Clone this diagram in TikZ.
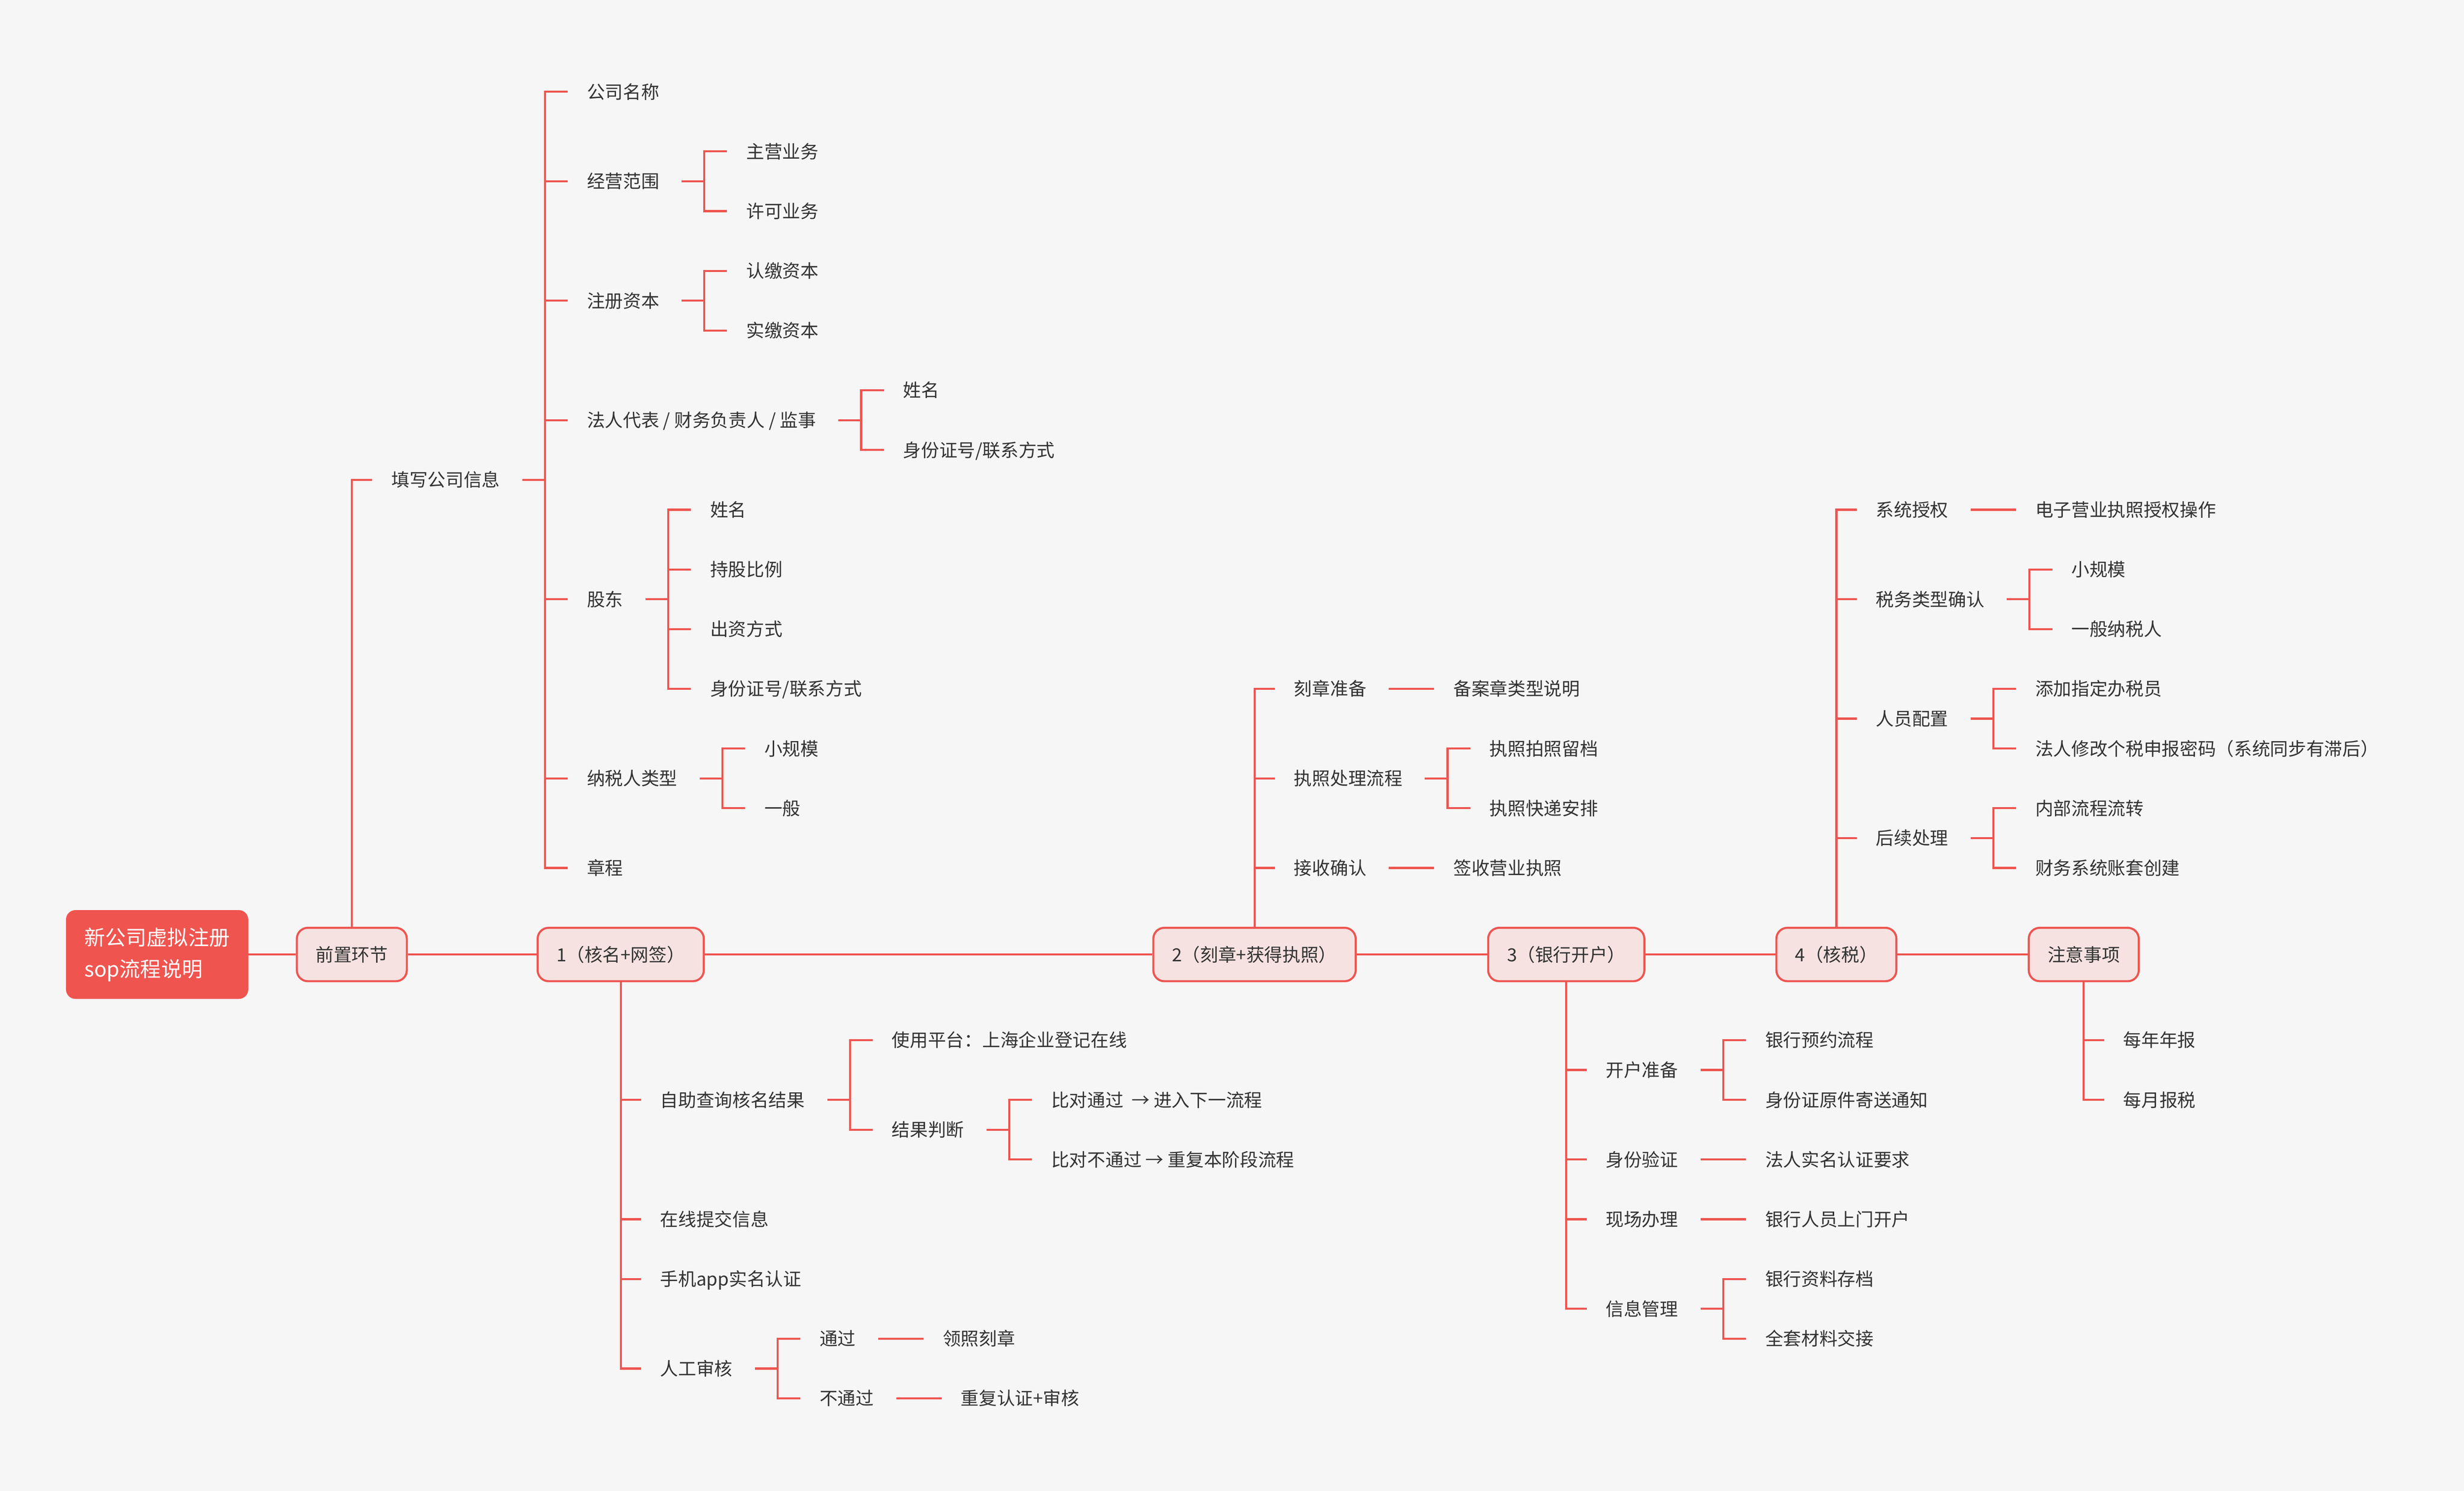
\documentclass[tikz,border=0pt]{standalone}
\usepackage{fontspec}
\setmainfont{Noto Sans CJK SC}
\usetikzlibrary{calc}
\definecolor{lred}{HTML}{EE5550}
\definecolor{rootfill}{HTML}{F0544F}
\definecolor{boxfill}{HTML}{F6E2E1}
\definecolor{bg}{HTML}{F6F6F6}
\definecolor{txt}{HTML}{333333}
% child of a main box: name placed 25pt right of the box centre
\newcommand\bkid[4]{%
  \path (#1.center) ++(25,0) coordinate (tmpx);
  \coordinate (tmpy) at (0,#3);
  \node[leaf] (#2) at (tmpx |- tmpy) {#4};
  \draw[conn] (#1.center |- #2.west) -- ([xshift=-12pt]#2.west);
}
% child of a text node: bracket connector
\newcommand\kid[4]{%
  \path (#1.east) ++(55,0) coordinate (tmpx);
  \coordinate (tmpy) at (0,#3);
  \node[leaf] (#2) at (tmpx |- tmpy) {#4};
  \draw[conn] ([xshift=14pt]#1.east) -- ([xshift=28.5pt]#1.east) |- ([xshift=-12pt]#2.west);
}
\begin{document}
\begin{tikzpicture}[x=1pt,y=-1pt,
  conn/.style={draw=lred,line width=1.3pt},
  leaf/.style={inner sep=0pt,text height=10.1pt,text depth=1.4pt,text=txt,anchor=west,font=\fontsize{11.5}{14}\selectfont},
  mainbox/.style={draw=lred,line width=1.3pt,fill=boxfill,rounded corners=7pt,minimum height=34pt,inner xsep=12pt,inner ysep=0pt,text height=10.1pt,text depth=1.4pt,text=txt,font=\fontsize{11.5}{14}\selectfont},
  rootbox/.style={fill=rootfill,rounded corners=6pt,minimum width=116pt,minimum height=56.5pt,inner sep=0pt,align=left,text=white,font=\fontsize{13.2}{20}\selectfont}
]
\useasboundingbox (0,0) rectangle (1568,948.9);
\fill[bg] (0,0) rectangle (1568,948.9);

% main row
\node[rootbox] (root) at (100,607.5) {新公司虚拟注册\\sop流程说明};
\node[mainbox] (b0) at (223.9,607.5) {前置环节};
\node[mainbox] (b1) at (395,607.5) {1（核名+网签）};
\node[mainbox] (b2) at (798.3,607.5) {2（刻章+获得执照）};
\node[mainbox] (b3) at (996.7,607.5) {3（银行开户）};
\node[mainbox] (b4) at (1168.6,607.5) {4（核税）};
\node[mainbox] (b5) at (1326,607.5) {注意事项};
\draw[conn] (root.east) -- (b0.west);
\draw[conn] (b0.east) -- (b1.west);
\draw[conn] (b1.east) -- (b2.west);
\draw[conn] (b2.east) -- (b3.west);
\draw[conn] (b3.east) -- (b4.west);
\draw[conn] (b4.east) -- (b5.west);

% 前置环节
\bkid{b0}{a}{305.4}{填写公司信息}
\draw[conn] (b0.north) |- ([xshift=-12pt]a.west);
\kid{a}{a1}{58.4}{公司名称}
\kid{a}{a2}{115.4}{经营范围}
\kid{a2}{a21}{96.4}{主营业务}
\kid{a2}{a22}{134.4}{许可业务}
\kid{a}{a3}{191.4}{注册资本}
\kid{a3}{a31}{172.4}{认缴资本}
\kid{a3}{a32}{210.4}{实缴资本}
\kid{a}{a4}{267.4}{法人代表 / 财务负责人 / 监事}
\kid{a4}{a41}{248.4}{姓名}
\kid{a4}{a42}{286.4}{身份证号/联系方式}
\kid{a}{a5}{381.4}{股东}
\kid{a5}{a51}{324.4}{姓名}
\kid{a5}{a52}{362.4}{持股比例}
\kid{a5}{a53}{400.4}{出资方式}
\kid{a5}{a54}{438.4}{身份证号/联系方式}
\kid{a}{a6}{495.4}{纳税人类型}
\kid{a6}{a61}{476.4}{小规模}
\kid{a6}{a62}{514.4}{一般}
\kid{a}{a7}{552.4}{章程}

% 1（核名+网签）
\bkid{b1}{c1}{700}{自助查询核名结果}
\kid{c1}{c11}{662}{使用平台：上海企业登记在线}
\kid{c1}{c12}{719}{结果判断}
\kid{c12}{c121}{700}{比对通过\ \ → 进入下一流程}
\kid{c12}{c122}{738}{比对不通过 → 重复本阶段流程}
\bkid{b1}{c2}{776}{在线提交信息}
\bkid{b1}{c3}{814}{手机app实名认证}
\bkid{b1}{c4}{871}{人工审核}
\kid{c4}{c41}{852}{通过}
\kid{c4}{c42}{890}{不通过}
\kid{c41}{c411}{852}{领照刻章}
\kid{c42}{c421}{890}{重复认证+审核}
\draw[conn] (b1.south) |- ([xshift=-12pt]c4.west);

% 2（刻章+获得执照）
\bkid{b2}{d1}{438.4}{刻章准备}
\kid{d1}{d11}{438.4}{备案章类型说明}
\bkid{b2}{d2}{495.4}{执照处理流程}
\kid{d2}{d21}{476.4}{执照拍照留档}
\kid{d2}{d22}{514.4}{执照快递安排}
\bkid{b2}{d3}{552.4}{接收确认}
\kid{d3}{d31}{552.4}{签收营业执照}
\draw[conn] (b2.north) |- ([xshift=-12pt]d1.west);

% 3（银行开户）
\bkid{b3}{e1}{681}{开户准备}
\kid{e1}{e11}{662}{银行预约流程}
\kid{e1}{e12}{700}{身份证原件寄送通知}
\bkid{b3}{e2}{738}{身份验证}
\kid{e2}{e21}{738}{法人实名认证要求}
\bkid{b3}{e3}{776}{现场办理}
\kid{e3}{e31}{776}{银行人员上门开户}
\bkid{b3}{e4}{833}{信息管理}
\kid{e4}{e41}{814}{银行资料存档}
\kid{e4}{e42}{852}{全套材料交接}
\draw[conn] (b3.south) |- ([xshift=-12pt]e4.west);

% 4（核税）
\bkid{b4}{f1}{324.4}{系统授权}
\kid{f1}{f11}{324.4}{电子营业执照授权操作}
\bkid{b4}{f2}{381.4}{税务类型确认}
\kid{f2}{f21}{362.4}{小规模}
\kid{f2}{f22}{400.4}{一般纳税人}
\bkid{b4}{f3}{457.4}{人员配置}
\kid{f3}{f31}{438.4}{添加指定办税员}
\kid{f3}{f32}{476.4}{法人修改个税申报密码（系统同步有滞后）}
\bkid{b4}{f4}{533.4}{后续处理}
\kid{f4}{f41}{514.4}{内部流程流转}
\kid{f4}{f42}{552.4}{财务系统账套创建}
\draw[conn] (b4.north) |- ([xshift=-12pt]f1.west);

% 注意事项
\bkid{b5}{g1}{662}{每年年报}
\bkid{b5}{g2}{700}{每月报税}
\draw[conn] (b5.south) |- ([xshift=-12pt]g2.west);
\end{tikzpicture}
\end{document}
